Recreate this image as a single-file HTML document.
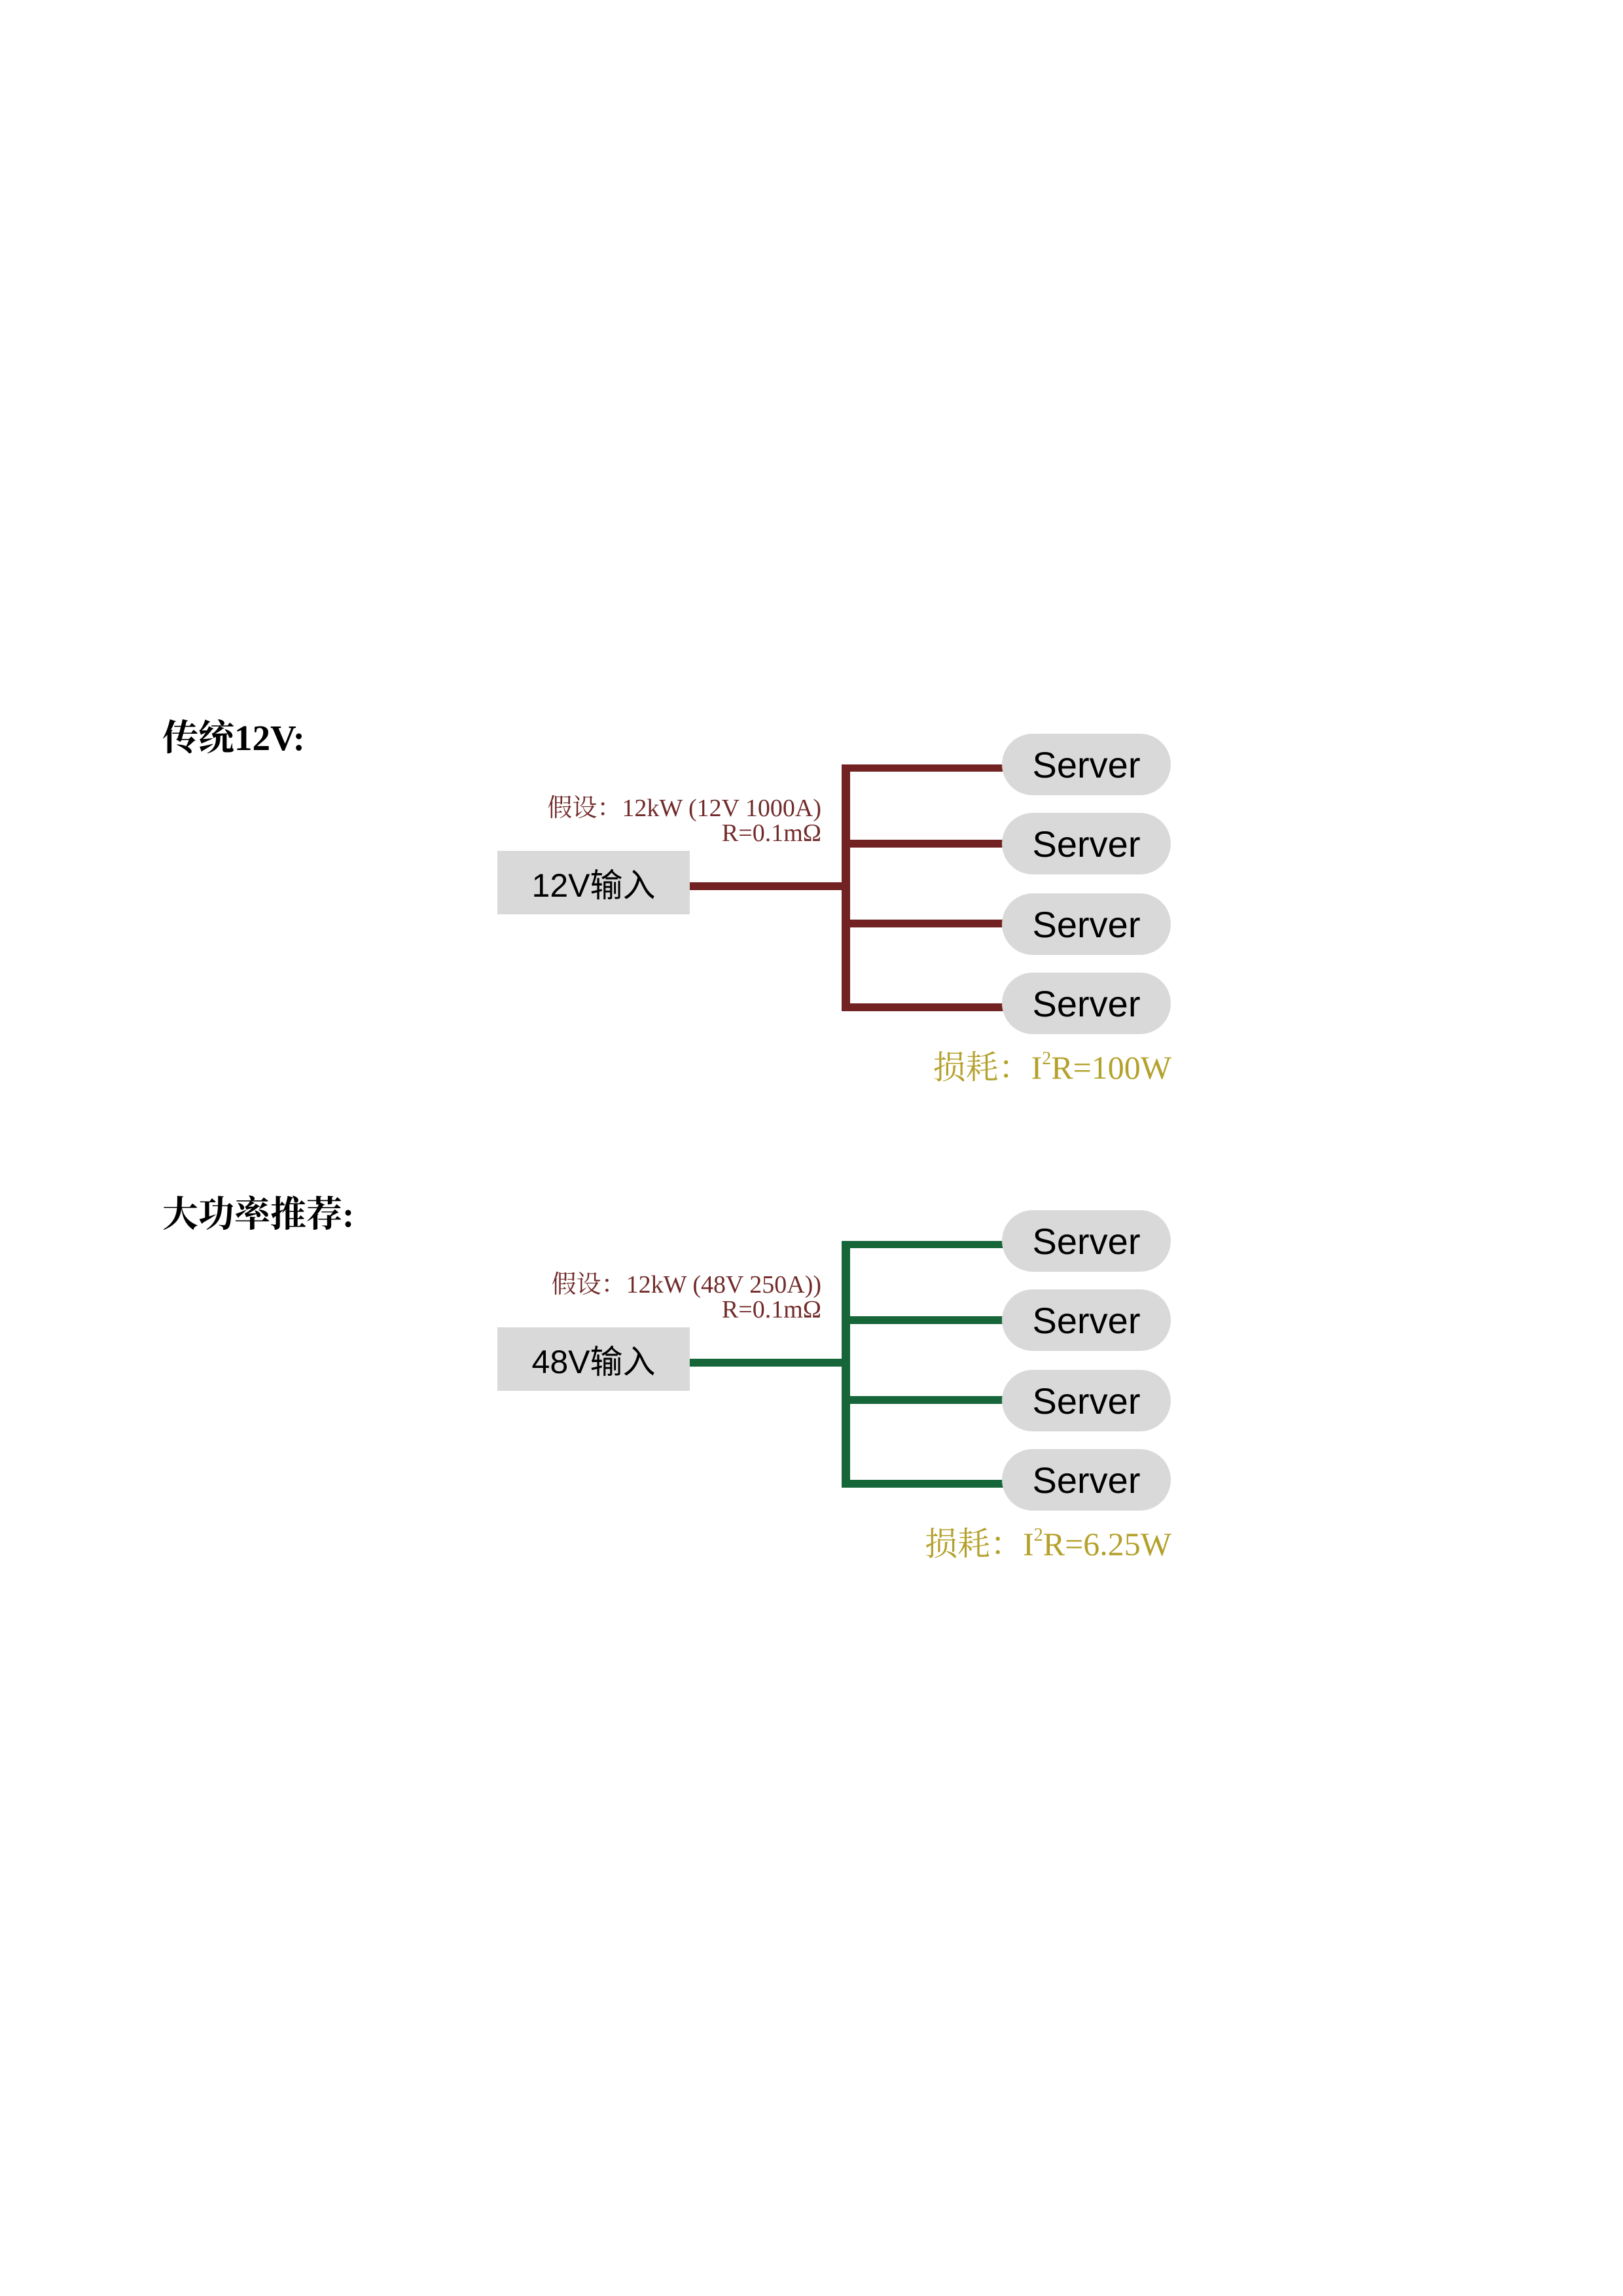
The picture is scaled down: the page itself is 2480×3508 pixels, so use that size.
<!DOCTYPE html>
<html><head><meta charset="utf-8"><style>
body{margin:0;background:#fff;}
.page{position:relative;width:2480px;height:3508px;overflow:hidden;background:#fff;}
.a{position:absolute;}
.title{font-family:"Liberation Serif","Noto Serif CJK SC",serif;font-size:55px;font-weight:bold;color:#000;line-height:1;white-space:nowrap;}
.box{background:#d9d9d9;font-family:"Liberation Sans","Noto Sans CJK SC",sans-serif;font-size:50px;color:#000;display:flex;align-items:center;justify-content:center;}
.pill{background:#d9d9d9;border-radius:47px;font-family:"Liberation Sans","Noto Sans CJK SC",sans-serif;font-size:56px;color:#000;display:flex;align-items:center;justify-content:center;width:258px;height:94px;left:1531px;}
.note{font-family:"Liberation Serif","Noto Serif CJK SC",serif;font-size:38px;color:#722b2b;text-align:right;line-height:38px;white-space:nowrap;right:1225px;}
.loss{font-family:"Liberation Serif","Noto Serif CJK SC",serif;font-size:50px;color:#b4a12c;white-space:nowrap;right:690px;line-height:1;}
.loss sup{font-size:28px;vertical-align:22px;line-height:0;}
</style></head><body><div class="page">

<div class="a title" style="left:248px;top:1100px;">传统12V:</div>
<div class="a note" style="top:1216px;">假设：12kW (12V 1000A)<br>R=0.1mΩ</div>
<div class="a box" style="left:760px;top:1300px;width:294px;height:97px;">12V输入</div>
<div class="a" style="left:1054px;top:1348px;width:236px;height:12px;background:#722222;"></div>
<div class="a" style="left:1286px;top:1168px;width:13px;height:377px;background:#722222;"></div>
<div class="a" style="left:1286px;top:1168px;width:250px;height:11px;background:#722222;"></div>
<div class="a" style="left:1286px;top:1283px;width:250px;height:12px;background:#722222;"></div>
<div class="a" style="left:1286px;top:1405px;width:250px;height:12px;background:#722222;"></div>
<div class="a" style="left:1286px;top:1533px;width:250px;height:12px;background:#722222;"></div>
<div class="a pill" style="top:1121px;">Server</div>
<div class="a pill" style="top:1242px;">Server</div>
<div class="a pill" style="top:1365px;">Server</div>
<div class="a pill" style="top:1486px;">Server</div>
<div class="a loss" style="top:1606px;">损耗：I<sup>2</sup>R=100W</div>

<div class="a title" style="left:248px;top:1828px;">大功率推荐:</div>
<div class="a note" style="top:1944px;">假设：12kW (48V 250A))<br>R=0.1mΩ</div>
<div class="a box" style="left:760px;top:2028px;width:294px;height:97px;">48V输入</div>
<div class="a" style="left:1054px;top:2076px;width:236px;height:12px;background:#17663a;"></div>
<div class="a" style="left:1286px;top:1896px;width:13px;height:377px;background:#17663a;"></div>
<div class="a" style="left:1286px;top:1896px;width:250px;height:11px;background:#17663a;"></div>
<div class="a" style="left:1286px;top:2011px;width:250px;height:12px;background:#17663a;"></div>
<div class="a" style="left:1286px;top:2133px;width:250px;height:12px;background:#17663a;"></div>
<div class="a" style="left:1286px;top:2261px;width:250px;height:12px;background:#17663a;"></div>
<div class="a pill" style="top:1849px;">Server</div>
<div class="a pill" style="top:1970px;">Server</div>
<div class="a pill" style="top:2093px;">Server</div>
<div class="a pill" style="top:2214px;">Server</div>
<div class="a loss" style="top:2334px;">损耗：I<sup>2</sup>R=6.25W</div>

</div></body></html>
